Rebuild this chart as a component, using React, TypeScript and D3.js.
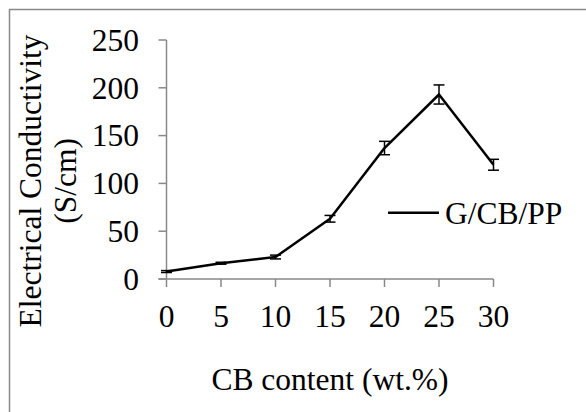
import React from "react";
import * as d3 from "d3";

const cbContent = [0, 5, 10, 15, 20, 25, 30];
const conductivity = [7.8, 16.5, 23, 63, 137, 193, 119.5];
const errors = [1, 1, 2, 3.5, 7, 10, 5.7];
const xTicks = [0, 5, 10, 15, 20, 25, 30];
const yTicks = [0, 50, 100, 150, 200, 250];
const seriesName = "G/CB/PP";

export default function App() {
  const W = 586, H = 412;
  const x = d3.scaleLinear().domain([0, 30]).range([166.5, 493.5]);
  const y = d3.scaleLinear().domain([0, 250]).range([279, 40]);
  const line = d3.line<number>().x((_, i) => x(cbContent[i])).y((d) => y(d));
  const font = "'Liberation Serif', 'Times New Roman', serif";
  const fs = 31.5;
  const axisColor = "#898989";
  return (
    <svg width={W} height={H} style={{ position: "absolute", left: 0, top: 0, background: "#fff" }}>
      <rect x={0} y={0} width={W} height={H} fill="#fff" />
      <path d={`M9.5,${H + 5}V9.5H${W + 5}`} fill="none" stroke={axisColor} strokeWidth={1.5} />
      {/* y axis */}
      <line x1={x(0)} x2={x(0)} y1={y(250)} y2={y(0)} stroke={axisColor} strokeWidth={1.5} />
      {yTicks.map((t) => (
        <g key={"y" + t}>
          <line x1={x(0) - 8} x2={x(0)} y1={y(t)} y2={y(t)} stroke={axisColor} strokeWidth={1.5} />
          <text x={139} y={y(t)} dy="0.34em" textAnchor="end" fontFamily={font} fontSize={fs} fill="#000">
            {t}
          </text>
        </g>
      ))}
      {/* x axis */}
      <line x1={x(0) - 8} x2={x(30)} y1={y(0)} y2={y(0)} stroke={axisColor} strokeWidth={1.5} />
      {xTicks.map((t) => (
        <g key={"x" + t}>
          <line x1={x(t)} x2={x(t)} y1={y(0)} y2={y(0) + 8} stroke={axisColor} strokeWidth={1.5} />
          <text x={x(t)} y={327} textAnchor="middle" fontFamily={font} fontSize={fs} fill="#000">
            {t}
          </text>
        </g>
      ))}
      {/* error bars */}
      {conductivity.map((v, i) => {
        const cx = x(cbContent[i]);
        const e = errors[i];
        return (
          <g key={"e" + i} stroke="#000" strokeWidth={1.5}>
            <line x1={cx} x2={cx} y1={y(v - e)} y2={y(v + e)} />
            <line x1={cx - 5.5} x2={cx + 5.5} y1={y(v - e)} y2={y(v - e)} />
            <line x1={cx - 5.5} x2={cx + 5.5} y1={y(v + e)} y2={y(v + e)} />
          </g>
        );
      })}
      <path d={line(conductivity) || ""} fill="none" stroke="#000" strokeWidth={2.5} strokeLinejoin="round" />
      {/* legend */}
      <line x1={388} x2={439} y1={212.7} y2={212.7} stroke="#000" strokeWidth={2.5} />
      <text x={445} y={224} fontFamily={font} fontSize={fs} fill="#000">
        {seriesName}
      </text>
      {/* axis titles */}
      <text x={(x(0) + x(30)) / 2} y={390} textAnchor="middle" fontFamily={font} fontSize={fs} fill="#000">
        CB content (wt.%)
      </text>
      <g transform="translate(0,181) rotate(-90)">
        <text x={0} y={41} textAnchor="middle" fontFamily={font} fontSize={fs} fill="#000">
          Electrical Conductivity
        </text>
        <text x={0} y={76} textAnchor="middle" fontFamily={font} fontSize={fs} fill="#000">
          (S/cm)
        </text>
      </g>
    </svg>
  );
}
